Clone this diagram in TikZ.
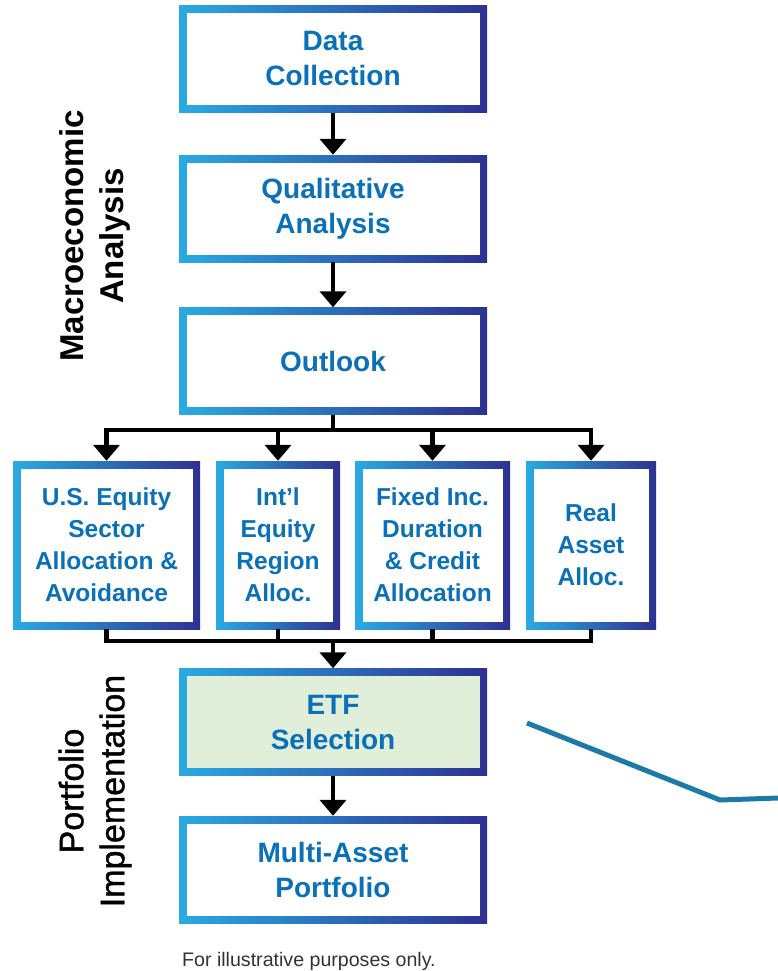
\documentclass[tikz,border=0pt]{standalone}
\usepackage{fontspec}
\setmainfont{Liberation Sans}
\newfontfamily\medfont[FakeBold=1.2]{Liberation Sans}
\usetikzlibrary{arrows.meta}
\definecolor{bdlight}{RGB}{41,171,226}
\definecolor{bddark}{RGB}{46,49,146}
\definecolor{stagetext}{RGB}{10,112,184}
\definecolor{etfgreen}{RGB}{225,239,218}
\definecolor{trendteal}{RGB}{27,123,166}
\definecolor{notegray}{RGB}{51,51,51}

\begin{document}
\begin{tikzpicture}[x=1pt, y=-1pt,
  stage/.style={left color=bdlight, right color=bddark, inner sep=0pt,
                minimum width=308pt, minimum height=107pt, text=stagetext, align=center,
                font=\fontsize{28}{35}\selectfont\bfseries,
                path picture={\fill[#1]
                  ([shift={(7.5pt,7.5pt)}]path picture bounding box.south west) rectangle
                  ([shift={(-7.5pt,-7.5pt)}]path picture bounding box.north east);}},
  stage/.default=white,
  alloc/.style={stage, minimum height=168pt, font=\fontsize{24.5}{32}\selectfont\bfseries},
  side/.style={rotate=90, align=center, text=black, inner sep=0pt},
  arr/.style={-{Triangle[length=16pt,width=26pt]}, line width=4.5pt},
  link/.style={line width=4.5pt},
  trend/.style={draw=trendteal, line width=5pt},
  note/.style={font=\fontsize{19.6}{22}\selectfont, text=notegray, inner sep=0pt},
]
\useasboundingbox (0,0) rectangle (778,971);

% ---- macro stages (main column) ----
\node[stage] (data) at (333, 59) {Data\\Collection};
\node[stage] (qual) at (333, 208.5) {Qualitative\\Analysis};
\node[stage] (outlook) at (333, 361) {Outlook};

\draw[arr] (data) -- (qual);
\draw[arr] (qual) -- (outlook);

% ---- allocation row ----
\coordinate (bustop) at (333, 430);
\coordinate (busbot) at (333, 641);
\node[alloc, minimum width=187pt] (useq) at (106.5, 545) {U.S. Equity\\Sector\\Allocation \&\\Avoidance};
\node[alloc, minimum width=124pt] (intl) at (278, 545) {Int’l\\Equity\\Region\\Alloc.};
\node[alloc, minimum width=155pt] (fixed) at (432.5, 545) {Fixed Inc.\\Duration\\\& Credit\\Allocation};
\node[alloc, minimum width=130pt] (real) at (591, 545) {Real\\Asset\\Alloc.};

\draw[link] (outlook) -- (bustop);
\draw[link] ([xshift=-2.25pt]bustop -| useq) -- ([xshift=2.25pt]bustop -| real);
\foreach \n in {useq, intl, fixed, real}
  \draw[arr] (bustop -| \n) -- (\n);

\foreach \n in {useq, intl, fixed, real}
  \draw[link] (\n) -- ([yshift=-2.25pt]busbot -| \n);
\draw[link] ([xshift=-2.25pt]busbot -| useq) -- ([xshift=2.25pt]busbot -| real);

% ---- implementation ----
\node[stage=etfgreen] (etf) at (333, 722) {ETF\\Selection};
\node[stage] (multi) at (333, 869.5) {Multi-Asset\\Portfolio};

\draw[arr] (busbot) -- (etf);
\draw[arr] (etf) -- (multi);

% ---- side labels ----
\node[side, font=\fontsize{33}{40}\selectfont\bfseries] (macro) at (95, 236) {Macroeconomic\\Analysis};
\node[side, font=\fontsize{34}{41}\selectfont\medfont] (impl) at (95, 791) {Portfolio\\Implementation};

% ---- trend line and note ----
\coordinate (t1) at (527, 723);
\coordinate (t2) at (720, 800);
\coordinate (t3) at (778, 798);
\draw[trend] (t1) -- (t2) -- (t3);

\node[note, anchor=base west] (fine) at (182, 966) {For illustrative purposes only.};
\end{tikzpicture}
\end{document}
